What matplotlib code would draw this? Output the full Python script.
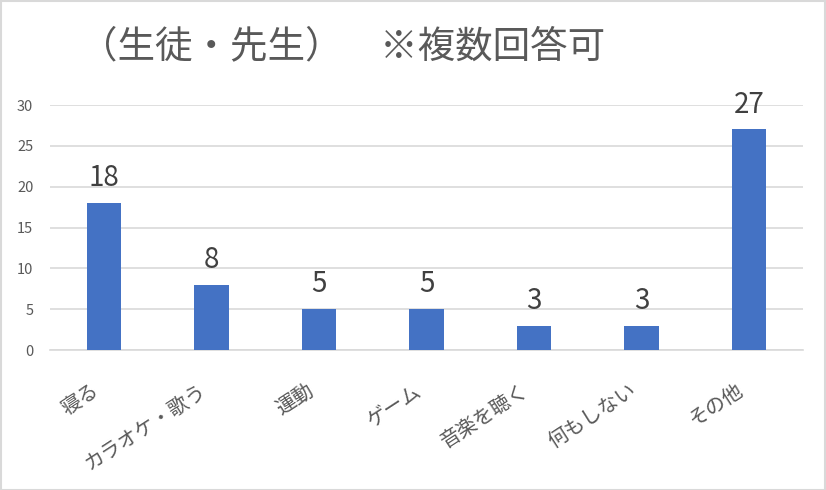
import matplotlib
matplotlib.use("Agg")
import matplotlib.pyplot as plt
from matplotlib.patches import Rectangle
from matplotlib.transforms import ScaledTranslation

plt.rcParams['font.family'] = ['Noto Sans CJK JP', 'DejaVu Sans']

categories = ["寝る", "カラオケ・歌う", "運動", "ゲーム", "音楽を聴く", "何もしない", "その他"]
values = [18, 8, 5, 5, 3, 3, 27]
yticks = [0, 5, 10, 15, 20, 25, 30]
title = "（生徒・先生）　※複数回答可"

W, H = 826, 490
fig = plt.figure(figsize=(W / 100, H / 100), dpi=100)
ax = fig.add_axes([50 / W, 1 - 350 / H, (803 - 50) / W, (350 - 105) / H])

x = list(range(len(categories)))
ax.bar(x, values, width=0.32, color="#4472C4", zorder=3)
for xi, v in zip(x, values):
    ax.annotate(str(v), (xi, v), xytext=(0, 7), textcoords="offset points",
                ha="center", va="bottom", fontsize=20, color="#404040")

ax.set_xlim(-0.5, len(categories) - 0.5)
ax.set_ylim(0, 30)
ax.set_yticks(yticks)
ax.set_yticklabels([str(t) for t in yticks], fontsize=10.5, color="#595959")
ax.yaxis.grid(True, color="#d9d9d9", linewidth=1.2, zorder=0)
ax.set_axisbelow(True)
for s in ["top", "right", "left"]:
    ax.spines[s].set_visible(False)
ax.spines["bottom"].set_color("#d9d9d9")
ax.spines["bottom"].set_linewidth(1.2)
ax.tick_params(axis="y", length=0, pad=12)
ax.tick_params(axis="x", length=0, pad=28)
ax.set_xticks(x)
ax.set_xticklabels(categories, rotation=33, ha="right", va="center",
                   rotation_mode="anchor", fontsize=14.5, color="#595959")
shift = ScaledTranslation(-5 / 72, 0, fig.dpi_scale_trans)
for lbl in ax.get_xticklabels():
    lbl.set_transform(lbl.get_transform() + shift)

fig.text(80 / W, 1 - 47 / H, title, fontsize=27, color="#595959",
         ha="left", va="center")

fig.patches.append(Rectangle((0.5 / W, 0.5 / H), 1 - 1.5 / W, 1 - 1.5 / H,
                             transform=fig.transFigure, fill=False,
                             edgecolor="#d9d9d9", linewidth=1.5))

fig.savefig("out.png", dpi=100, facecolor="white")
